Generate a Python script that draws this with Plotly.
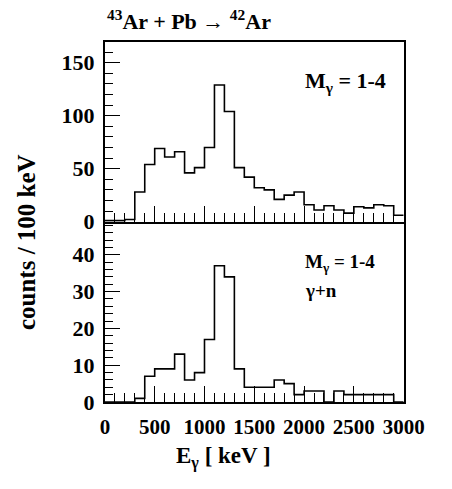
import numpy as np
import plotly.graph_objects as go

# bin edges (keV) and counts per 100 keV
bin_edges = list(range(0, 3100, 100))
counts_all = [1, 1, 2, 28, 54, 69, 61, 66, 46, 51, 70, 129, 104, 51, 42, 32, 30, 21, 25, 28,
              16, 11, 15, 11, 8, 14, 13, 16, 15, 6]
counts_gn = [0, 0, 0, 1, 7, 9, 9, 13, 6, 8, 17, 37, 34, 9, 4, 4, 4, 6, 5, 2,
             3, 3, 0, 3, 2, 2, 2, 2, 2, 0]

x_ticks = [0, 500, 1000, 1500, 2000, 2500, 3000]
top_ticks = [0, 50, 100, 150]
bot_ticks = [0, 10, 20, 30, 40]

FONT = "Liberation Serif"
W, H = 452, 489

def px2x(p):
    return p / W

def px2y(p):
    return (H - p) / H

def step(vals):
    xs = bin_edges
    ys = list(vals) + [vals[-1]]
    return xs, ys

fig = go.Figure()
xs, ys = step(counts_all)
fig.add_trace(go.Scatter(x=xs, y=ys, mode="lines", line=dict(shape="hv", color="black", width=1.6),
                         xaxis="x", yaxis="y", showlegend=False, hoverinfo="skip"))
xs, ys = step(counts_gn)
fig.add_trace(go.Scatter(x=xs, y=ys, mode="lines", line=dict(shape="hv", color="black", width=1.6),
                         xaxis="x2", yaxis="y2", showlegend=False, hoverinfo="skip"))

xdom = [px2x(106), px2x(423)]
top_dom = [px2y(227.7), px2y(42.7)]
bot_dom = [px2y(413), px2y(227.7)]

xtickfont = dict(family=FONT, size=21, color="black", weight="bold")
ytickfont = dict(family=FONT, size=22, color="black", weight="bold")

common_x = dict(range=[0, 3000], domain=xdom, showline=True, linewidth=2, linecolor="black",
                ticks="inside", ticklen=16, tickwidth=1.3, tickcolor="black",
                tickvals=x_ticks, showgrid=False, zeroline=False,
                minor=dict(dtick=100, ticks="inside", ticklen=9, tickwidth=1.3, tickcolor="black", showgrid=False))
common_y = dict(showline=True, linewidth=2, linecolor="black", mirror=True, ticks="inside",
                ticklen=15, tickwidth=1.3, tickcolor="black", showgrid=False, zeroline=False,
                tickfont=ytickfont, ticklabelstandoff=4)

fig.update_layout(
    width=W, height=H, margin=dict(l=0, r=0, t=0, b=0),
    paper_bgcolor="white", plot_bgcolor="white",
    xaxis=dict(common_x, anchor="y", showticklabels=False, mirror=True),
    yaxis=dict(common_y, domain=top_dom, anchor="x", range=[0, 170], tickvals=top_ticks,
               minor=dict(dtick=10, ticks="inside", ticklen=8, tickwidth=1.3, tickcolor="black", showgrid=False)),
    xaxis2=dict(common_x, anchor="y2", showticklabels=True, tickfont=xtickfont, ticklabelstandoff=5, mirror=False),
    yaxis2=dict(common_y, domain=bot_dom, anchor="x2", range=[0, 49], tickvals=bot_ticks,
                minor=dict(dtick=2, ticks="inside", ticklen=8, tickwidth=1.3, tickcolor="black", showgrid=False)),
)

ann_font = dict(family=FONT, color="black", weight="bold")
fig.add_annotation(x=px2x(106), y=px2y(21), xref="paper", yref="paper", xanchor="left", yanchor="middle",
                   text="<sup>43</sup>Ar + Pb → <sup>42</sup>Ar", showarrow=False, font=dict(ann_font, size=22))
fig.add_annotation(x=px2x(316), y=px2y(84), xref="paper", yref="paper", xanchor="left", yanchor="middle",
                   text="M<sub>γ</sub> = 1-4", showarrow=False, font=dict(ann_font, size=22))
fig.add_annotation(x=px2x(316), y=px2y(270), xref="paper", yref="paper", xanchor="left", yanchor="middle",
                   text="M<sub>γ</sub> = 1-4", showarrow=False, font=dict(ann_font, size=19))
fig.add_annotation(x=px2x(316), y=px2y(298), xref="paper", yref="paper", xanchor="left", yanchor="middle",
                   text="γ+n", showarrow=False, font=dict(ann_font, size=19))
fig.add_annotation(x=px2x(23), y=px2y(249), xref="paper", yref="paper", xanchor="center", yanchor="middle",
                   text="counts / 100 keV", textangle=-90, showarrow=False, font=dict(ann_font, size=25))
fig.add_annotation(x=px2x(232), y=px2y(470), xref="paper", yref="paper", xanchor="center", yanchor="middle",
                   text="E<sub>γ</sub> [ keV ]", showarrow=False, font=dict(ann_font, size=23))

fig.write_html("out.html")
